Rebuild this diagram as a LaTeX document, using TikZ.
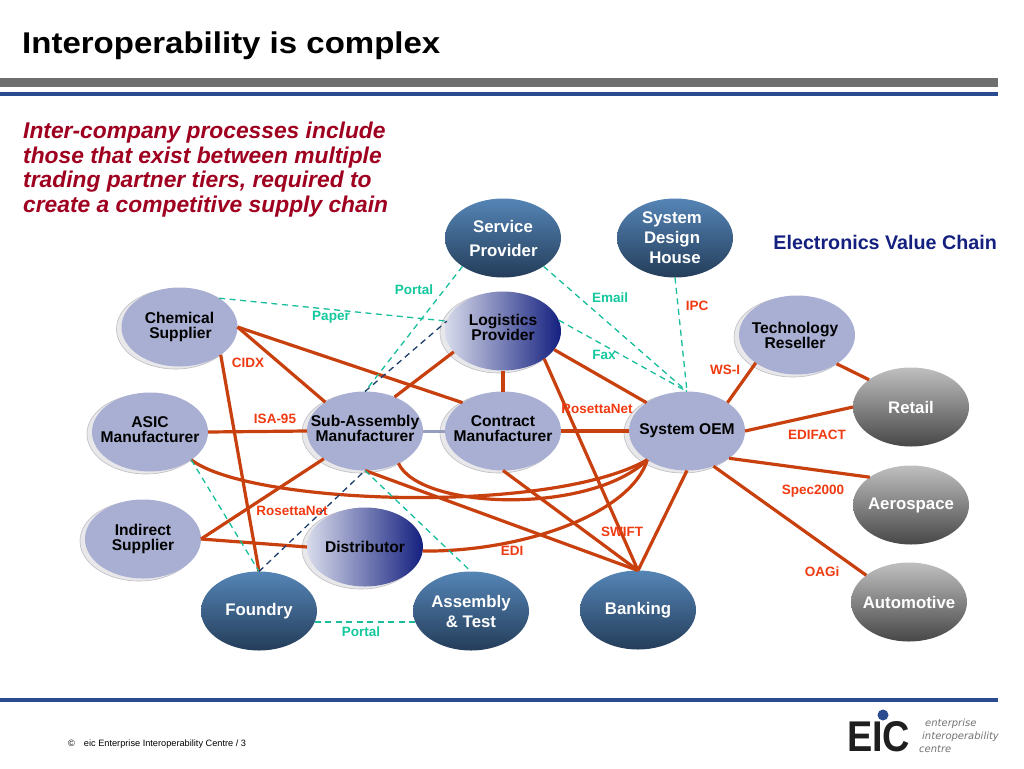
\documentclass[tikz,border=0pt]{standalone}
\usepackage{fontspec}
\setmainfont{Liberation Sans}
\newfontfamily\logofont{DejaVu Sans}
\newfontfamily\eicfont[FakeStretch=0.88]{Liberation Sans}
\usetikzlibrary{shapes.geometric}
\definecolor{lavfill}{HTML}{A8AFD2}
\definecolor{shadowfill}{HTML}{E8E8EA}
\definecolor{shadowline}{HTML}{BDBDC4}
\definecolor{linkred}{HTML}{C8400E}
\definecolor{lblred}{HTML}{F03A12}
\definecolor{lblgreen}{HTML}{12C89C}
\definecolor{dashgreen}{HTML}{18BE9C}
\definecolor{dashnavy}{HTML}{1F3F6E}
\definecolor{blueTop}{HTML}{5585B6}
\definecolor{blueBot}{HTML}{243D5A}
\definecolor{barblue}{HTML}{2A4B8D}
\definecolor{bargrey}{HTML}{6E6E6E}
\definecolor{navy}{HTML}{14207F}
\definecolor{titlered}{HTML}{A00020}
\tikzset{
  x=1pt,y=-1pt,
  oval/.style={ellipse,minimum width=116pt,minimum height=79pt,inner sep=-16pt,outer sep=0pt,align=center},
  lav/.style={oval,fill=lavfill,font=\fontsize{15.6}{15}\selectfont\bfseries,text=black},
  fade/.style={oval,left color=lavfill!45!white,middle color=lavfill!95!black,right color=navy,font=\fontsize{15.6}{15}\selectfont\bfseries,text=black},
  bluenode/.style={oval,top color=blueTop,bottom color=blueBot,font=\fontsize{16.8}{24}\selectfont\bfseries,text=white},
  greynode/.style={oval,top color=black!25,bottom color=black!72,font=\fontsize{16.8}{24}\selectfont\bfseries,text=white},
  link/.style={draw=linkred,line width=3.2pt},
  thinlink/.style={draw=lavfill!90!black,line width=3pt},
  dg/.style={draw=dashgreen,line width=1.3pt,dash pattern=on 6pt off 4.5pt},
  dn/.style={draw=dashnavy,line width=1.3pt,dash pattern=on 6pt off 4.5pt},
  lr/.style={font=\fontsize{13.5}{14}\selectfont\bfseries,text=lblred,inner sep=0pt},
  lg/.style={font=\fontsize{13.5}{14}\selectfont\bfseries,text=lblgreen,inner sep=0pt},
  logotext/.style={anchor=west,inner sep=0pt,align=left,text=black!55,font=\logofont\fontsize{10}{13}\selectfont\itshape},
}
\newcommand{\shad}[2]{\path[fill=shadowfill,draw=shadowline,line width=.6pt] (#1-4,#2+2) ellipse [x radius=59,y radius=40];}
\begin{document}
\begin{tikzpicture}
\useasboundingbox (0,0) rectangle (1024,768);
\fill[white] (0,0) rectangle (1024,768);
% bars
\fill[bargrey] (0,78) rectangle (998,87);
\fill[barblue] (0,92) rectangle (998,96);
\fill[barblue] (0,698) rectangle (998,702);
% heading texts
\node[anchor=west,inner sep=0pt,font=\fontsize{30}{30}\selectfont\bfseries] (title) at (22,46) {\scalebox{1.1}[1]{Interoperability is complex}};
\node[anchor=north west,inner sep=0pt,align=left,text=titlered,font=\fontsize{22.8}{24.6}\selectfont\bfseries\itshape] (intro) at (23,122)
 {Inter-company processes include\\those that exist between multiple\\trading partner tiers, required to\\create a competitive supply chain};
\node[anchor=east,inner sep=0pt,text=navy,font=\fontsize{19.7}{20}\selectfont\bfseries] (evc) at (997,242) {Electronics Value Chain};
% shadows
\shad{179.5}{327}\shad{150}{432}\shad{143}{539}\shad{365}{431}\shad{503}{331}\shad{503}{431}\shad{687}{431}\shad{797}{335}\shad{365}{547}
% nodes
\node[lav] (chem) at (179.5,327) {Chemical\\\hspace*{2pt}Supplier};
\node[lav,text depth=5pt] (asic) at (150,432) {ASIC\\Manufacturer};
\node[lav] (indi) at (143,539) {Indirect\\Supplier};
\node[lav,text depth=6pt] (sub) at (365,431) {Sub-Assembly\\Manufacturer};
\node[fade,text depth=8pt] (logi) at (503,331) {Logistics\\Provider};
\node[lav,text depth=5pt] (cont) at (503,431) {Contract\\Manufacturer};
\node[lav] (oem) at (687,431) {System OEM};
\node[lav] (tech) at (797,335) {\hspace*{-4pt}Technology\\\hspace*{-4pt}Reseller};
\node[fade] (dist) at (365,547) {Distributor};
\node[bluenode] (serv) at (503,238) {Service\\\hspace*{1pt}Provider};
\node[bluenode,font=\fontsize{16.8}{20}\selectfont\bfseries] (desi) at (675,238) {\hspace*{-6pt}System\\\hspace*{-6pt}Design\\House};
\node[bluenode,font=\fontsize{16.8}{20}\selectfont\bfseries] (foun) at (259,611) {Foundry};
\node[bluenode,font=\fontsize{16.8}{20}\selectfont\bfseries] (asse) at (471,611) {Assembly\\\& Test};
\node[bluenode,font=\fontsize{16.8}{20}\selectfont\bfseries] (bank) at (638,610) {Banking};
\node[greynode] (reta) at (911,407) {Retail};
\node[greynode] (aero) at (911,505) {Aerospace};
\node[greynode] (auto) at (909,602) {Automotive};
% solid links
\draw[link] (chem.0) -- (cont.145);
\draw[link] (chem.0) -- (sub.144);
\draw[link] (chem.-34) -- (foun.90);
\draw[link] (asic.0) -- (sub.180);
\draw[thinlink] (sub.0) -- (cont.180);
\draw[link] (sub.49) -- (logi.203);
\draw[link] (logi.270) -- (cont.90);
\draw[link] (cont.0) -- (oem.180);
\draw[link] (logi.340) -- (oem.145);
\draw[link] (logi.326) -- (bank.90);
\draw[link] (cont.270) -- (bank.90);
\draw[link] (sub.270) -- (bank.90);
\draw[link] (oem.270) -- (bank.90);
\draw[link] (indi.0) -- (sub.214);
\draw[link] (indi.0) -- (dist.180);
\draw[link] (dist.356) .. controls (520,552) and (630,515) .. (oem.216);
\draw[link] (asic.326) .. controls (250,505) and (550,515) .. (oem.216);
\draw[link] (sub.316) .. controls (420,510) and (590,515) .. (oem.216);
\draw[link] (oem.35) -- (tech.214);
\draw[link] (tech.324) -- (reta.147);
\draw[link] (oem.0) -- (reta.180);
\draw[link] (oem.327) -- (aero.146);
\draw[link] (oem.307) -- (auto.148);
% dashed links
\draw[dg] (chem.36) -- (logi.170);
\draw[dg] (serv.215) -- (sub.90);
\draw[dg] (serv.325) -- (oem.90);
\draw[dg] (logi.11) -- (oem.90);
\draw[dg] (desi.270) -- (oem.90);
\draw[dg] (asic.326) -- (foun.90);
\draw[dg] (sub.270) -- (asse.90);
\draw[dg] (foun.349) -- (asse.191);
\draw[dn] (foun.90) -- (sub.270);
\draw[dn] (sub.90) -- (logi.170);
% labels
\node[lg] (l1) at (414,290) {Portal};
\node[lg] (l2) at (331,317) {Paper};
\node[lg] (l3) at (610,298) {Email};
\node[lr] (l4) at (697,306) {IPC};
\node[lg] (l5) at (604,355) {Fax};
\node[lr] (l6) at (248,363) {CIDX};
\node[lr] (l7) at (725,370) {WS-I};
\node[lr] (l8) at (275,419) {ISA-95};
\node[lr] (l9) at (597,409) {RosettaNet};
\node[lr] (l10) at (817,435) {EDIFACT};
\node[lr] (l11) at (813,491) {Spec2000};
\node[lr] (l12) at (292,511) {RosettaNet};
\node[lr] (l13) at (622,532) {SWIFT};
\node[lr] (l14) at (512,551) {EDI};
\node[lr] (l15) at (822,572) {OAGi};
\node[lg] (l16) at (361,632) {Portal};
% footer
\node[anchor=west,inner sep=0pt,font=\fontsize{9.2}{12}\selectfont] (foot) at (68,744) {©\hspace{9pt}eic Enterprise Interoperability Centre / 3};
% logo
\node[anchor=west,inner sep=0pt,text=black!88,font=\eicfont\fontsize{43}{43}\selectfont\bfseries] (logo) at (847,737) {EIC};
\fill[barblue] (883,715) circle (5.5);
\node[logotext] (logotxt) at (919,736) {\hspace*{6pt}enterprise\\\hspace*{3pt}interoperability\\centre};
\end{tikzpicture}
\end{document}
